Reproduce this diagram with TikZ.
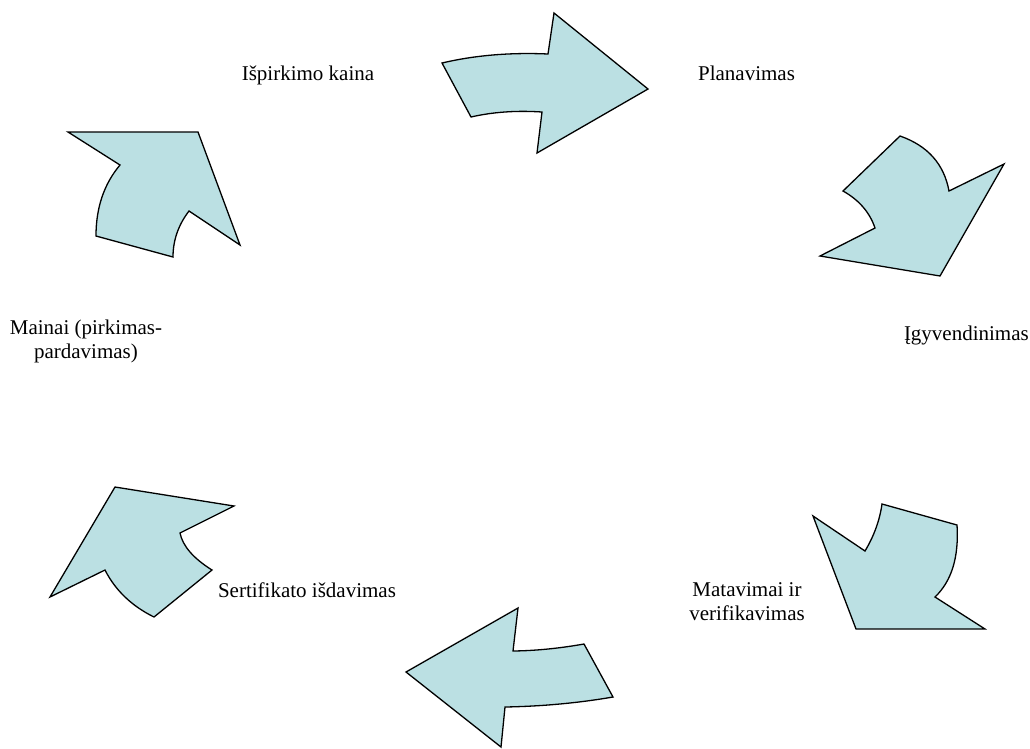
\documentclass[tikz,border=0pt]{standalone}
\usepackage{fontspec}
\setmainfont{Liberation Serif}
\definecolor{arrowfill}{RGB}{187,224,227}
\begin{document}
\begin{tikzpicture}[x=1pt,y=-1pt,
  arrowshape/.style={draw=black,fill=arrowfill,line width=1.3pt,line join=miter},
  lbl/.style={font=\fontsize{21}{24}\selectfont,align=center,inner sep=0pt}]
\useasboundingbox (0,0) rectangle (1030,748);
% arrow 1 (top, right)
\draw[arrowshape] (442,63) .. controls (474.7,55.3) and (510,52.3) .. (548,54) -- (554,13) -- (648,89) -- (537,153) -- (542,112) .. controls (516.3,110.3) and (492.7,112) .. (471,117) -- cycle;
% arrow 2 (upper right)
\draw[arrowshape] (900,136) .. controls (927.7,145.7) and (944,164) .. (949,191) -- (1004,164) -- (940,276) -- (820,256) -- (875,228) .. controls (869.7,212.3) and (859,200) .. (843,191) -- cycle;
% arrow 3 (lower right)
\draw[arrowshape] (882,504) -- (957,525) .. controls (959,557) and (951.7,581) .. (935,597) -- (985,629) -- (856,629) -- (813,516) -- (865,551) .. controls (874,536) and (879.7,520.3) .. (882,504) -- cycle;
% arrow 4 (bottom, left)
\draw[arrowshape] (518,608) -- (513,651) .. controls (536,650.7) and (559.7,648.3) .. (584,644) -- (613,697) .. controls (578.3,703) and (542.3,706.3) .. (505,707) -- (501,747) -- (406,672) -- cycle;
% arrow 5 (lower left)
\draw[arrowshape] (115,487) -- (234,506) -- (180,533) .. controls (182.7,546) and (193.3,558.3) .. (212,570) -- (154,617) .. controls (131.7,606) and (115.3,590.3) .. (105,570) -- (50,597) -- cycle;
% arrow 6 (upper left)
\draw[arrowshape] (68,132) -- (198,132) -- (240,245) -- (189,211) .. controls (178.3,225) and (173,240.3) .. (173,257) -- (96,236) .. controls (96,207.7) and (104,184) .. (120,165) -- cycle;
% labels
\node[lbl,anchor=base] (ispirkimo) at (308,80) {Išpirkimo kaina};
\node[lbl,anchor=base] (planavimas) at (746.5,80) {Planavimas};
\node[lbl,anchor=base east] (igyvendinimas) at (1029,340) {Įgyvendinimas};
\node[lbl] (matavimai) at (747,602) {Matavimai ir\\verifikavimas};
\node[lbl,anchor=base] (sertifikato) at (307,597) {Sertifikato išdavimas};
\node[lbl] (mainai) at (86,341) {Mainai (pirkimas-\\pardavimas)};
\end{tikzpicture}
\end{document}
